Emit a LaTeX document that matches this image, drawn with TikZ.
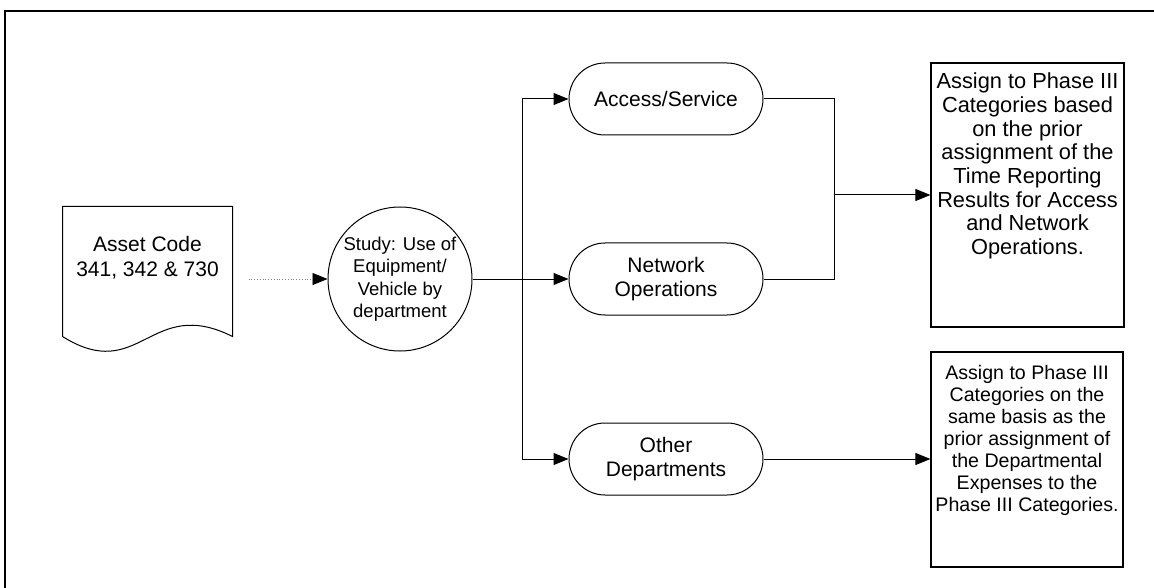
\documentclass[tikz,border=0pt]{standalone}
\usepackage{fontspec}
\setmainfont{Liberation Sans}
\usetikzlibrary{arrows.meta}
\begin{document}
\begin{tikzpicture}[x=1pt,y=-1pt,
  line width=1pt,
  arr/.style={-{Triangle[length=15pt,width=12pt,black]}},
  pill/.style={draw,rounded corners=36pt,minimum width=194pt,minimum height=72pt,align=center,inner sep=0pt,font=\fontsize{21}{24.5}\selectfont},
  circ/.style={draw,circle,minimum size=144pt,align=center,inner sep=0pt,font=\fontsize{18.5}{22.5}\selectfont},
  boxy/.style={draw,line width=1.2pt,inner sep=0pt},
  txt/.style={align=center,inner sep=0pt}
]
\useasboundingbox (0,0) rectangle (1154,588);
% frame
\draw[line width=1.6pt] (1154,11) -- (5,11) -- (5,588);

% document shape
\node[minimum width=169pt,minimum height=129pt,inner sep=0pt] (doc) at (147.5,271.5) {};
\draw (doc.north west) -- (doc.north east) -- (doc.south east)
  .. controls (150,295) and (140,385) .. (doc.south west) -- cycle;
\node[txt,font=\fontsize{21}{25}\selectfont] (doct) at (147.5,257.5) {Asset Code\\341, 342 \& 730};

% circle
\node[circ] (st) at (400,279) {Study: Use of\\Equipment/\\Vehicle by\\department};

% pills
\node[pill] (aa) at (666,99) {Access/Service};
\node[pill] (na) at (666,279) {Network\\Operations};
\node[pill] (od) at (666,459) {Other\\Departments};

% boxes
\node[boxy,minimum width=193pt,minimum height=264pt] (b1) at (1027.5,195) {};
\node[txt,font=\fontsize{21.8}{23.7}\selectfont] (b1t) at (1027.5,166)
  {Assign to Phase III\\Categories based\\on the prior\\assignment of the\\Time Reporting\\Results for Access\\and Network\\Operations.};
\node[boxy,minimum width=192pt,minimum height=215pt] (b2) at (1027,459.5) {};
\node[txt,font=\fontsize{19.6}{22}\selectfont] (b2t) at (1027,440)
  {Assign to Phase III\\Categories on the\\same basis as the\\prior assignment of\\the Departmental\\Expenses to the\\Phase III Categories.};

% connectors
\draw[arr,gray,dotted,line width=0.8pt] ([xshift=16pt]doc.east |- st.west) -- (st.west);
\coordinate (br) at (522,279);
\coordinate (mg) at (834,195);
\draw[arr] (st.east) -- (na.west);
\draw (br |- aa.west) -- (br |- od.west);
\draw[arr] (br |- aa.west) -- (aa.west);
\draw[arr] (br |- od.west) -- (od.west);
\draw (aa.east) -- (aa.east -| mg) -- (na.east -| mg) -- (na.east);
\draw[arr] (mg) -- (b1.west);
\draw[arr] (od.east) -- (b2.west |- od.east);
\end{tikzpicture}
\end{document}
